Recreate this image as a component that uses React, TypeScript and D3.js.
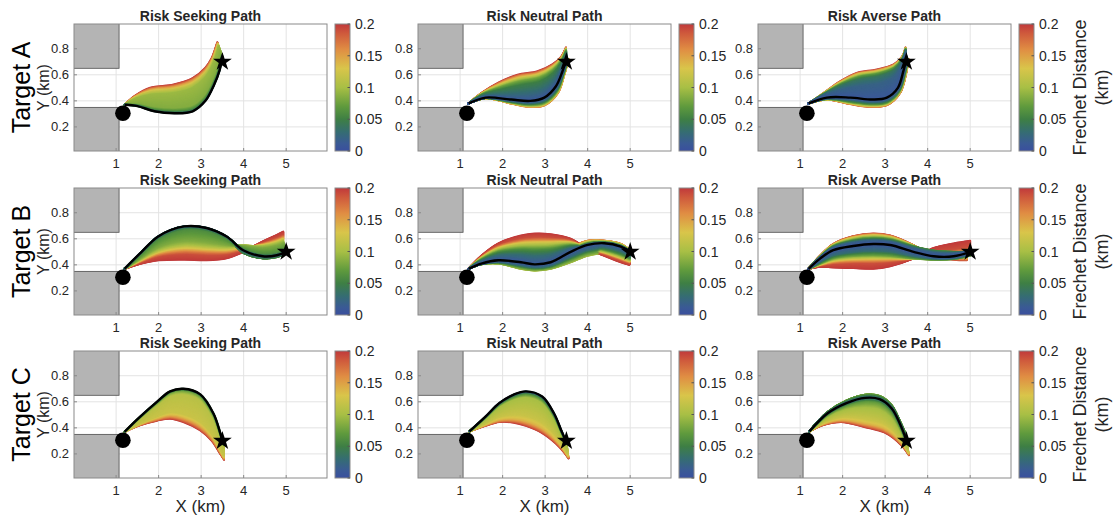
import React from "react";
import * as d3 from "d3";

// ---------- labels / ticks ----------
const colTitles = ["Risk Seeking Path", "Risk Neutral Path", "Risk Averse Path"];
const rowLabels = ["Target A", "Target B", "Target C"];
const xTicks = [1, 2, 3, 4, 5];
const yTicks = [0.2, 0.4, 0.6, 0.8];
const cbTicks = [0, 0.05, 0.1, 0.15, 0.2];
const cbTickLabels = ["0", "0.05", "0.1", "0.15", "0.2"];

// ---------- scene ----------
const startPoint: [number, number] = [1.16, 0.305];
const targets: [number, number][] = [[3.5, 0.7], [5.0, 0.5], [3.5, 0.3]];
const obstacleLow = [0, 1.07, 0, 0.35];
const obstacleHigh = [0, 1.07, 0.65, 1.0];

// colormap (Frechet distance -> colour)
const cmapValues = [0, 0.012, 0.03, 0.05, 0.07, 0.1, 0.13, 0.16, 0.185, 0.2];
const cmapColors = ["#3a4f9e", "#3a5a95", "#356d72", "#3e7f44", "#5f9a3d", "#a8bf45", "#d9c54a", "#e08d43", "#cf5a3c", "#c0393b"];

// ---------- paths: nominal (black) + guide curves of the fan + distance profile across it ----------
// Target A
const nomAS = [[1.2, 0.37], [1.5, 0.36], [1.9, 0.32], [2.4, 0.305], [2.8, 0.32], [3.1, 0.4], [3.3, 0.52], [3.43, 0.63], [3.5, 0.74]];
const edgeAS = [[1.2, 0.37], [1.45, 0.44], [1.8, 0.5], [2.35, 0.525], [2.8, 0.575], [3.1, 0.655], [3.25, 0.73], [3.33, 0.8], [3.38, 0.85]];
const profAS = [[0, 0.03], [0.05, 0.06], [0.15, 0.085], [0.7, 0.095], [0.82, 0.12], [0.9, 0.15], [0.96, 0.18], [1, 0.2]];

const nomAN = [[1.2, 0.38], [1.6, 0.425], [2.2, 0.41], [2.65, 0.4], [2.98, 0.425], [3.25, 0.51], [3.4, 0.62], [3.5, 0.72]];
const upAN = [[1.2, 0.38], [1.5, 0.46], [1.9, 0.54], [2.35, 0.6], [2.82, 0.627], [3.17, 0.68], [3.38, 0.74], [3.49, 0.81]];
const profUpAN = [[0, 0.01], [0.3, 0.03], [0.6, 0.05], [0.75, 0.08], [0.85, 0.12], [0.93, 0.16], [1, 0.2]];
const downAN = [[1.2, 0.38], [1.6, 0.42], [2.2, 0.38], [2.6, 0.355], [2.98, 0.365], [3.3, 0.46], [3.45, 0.6], [3.55, 0.72]];
const profDownAN = [[0, 0.01], [0.4, 0.04], [0.7, 0.09], [0.85, 0.13], [1, 0.17]];

const nomAA = [[1.2, 0.38], [1.63, 0.425], [2.18, 0.425], [2.72, 0.41], [3.04, 0.425], [3.3, 0.5], [3.43, 0.63], [3.5, 0.72]];
const upAA = [[1.2, 0.38], [1.55, 0.46], [1.94, 0.55], [2.33, 0.615], [2.8, 0.64], [3.2, 0.68], [3.4, 0.74], [3.48, 0.81]];
const profUpAA = [[0, 0.01], [0.5, 0.02], [0.75, 0.04], [0.85, 0.07], [0.92, 0.12], [0.97, 0.16], [1, 0.2]];
const downAA = [[1.2, 0.38], [1.63, 0.41], [2.18, 0.375], [2.6, 0.355], [3.04, 0.367], [3.35, 0.46], [3.5, 0.62], [3.55, 0.72]];
const profDownAA = [[0, 0.01], [0.3, 0.03], [0.6, 0.07], [0.8, 0.12], [1, 0.18]];

// Target B
const nomBS = [[1.2, 0.37], [1.6, 0.5], [2.0, 0.62], [2.6, 0.695], [3.13, 0.683], [3.6, 0.617], [4.0, 0.51], [4.45, 0.466], [4.78, 0.474], [5.0, 0.5]];
const midBS = [[1.2, 0.37], [1.6, 0.45], [2.0, 0.52], [2.6, 0.56], [3.13, 0.55], [3.6, 0.54], [4.0, 0.55], [4.45, 0.54], [4.78, 0.56], [4.93, 0.58]];
const edgeBS = [[1.2, 0.37], [1.6, 0.41], [2.0, 0.435], [2.6, 0.44], [3.13, 0.435], [3.6, 0.45], [4.0, 0.5], [4.45, 0.58], [4.78, 0.63], [4.93, 0.655]];
const profBS = [[0, 0.03], [0.08, 0.06], [0.45, 0.085], [0.55, 0.1], [0.65, 0.13], [0.75, 0.17], [0.82, 0.19], [1, 0.2]];
const lowBS = [[1.2, 0.37], [1.6, 0.49], [2.0, 0.6], [2.6, 0.67], [3.13, 0.66], [3.6, 0.59], [4.0, 0.49], [4.45, 0.45], [4.78, 0.46], [5.0, 0.49]];
const profLowBS = [[0, 0.03], [1, 0.06]];

const nomBN = [[1.2, 0.37], [1.5, 0.41], [1.9, 0.435], [2.43, 0.42], [2.75, 0.404], [3.13, 0.42], [3.6, 0.5], [4.0, 0.553], [4.39, 0.566], [4.78, 0.54], [5.0, 0.5]];
const upBN = [[1.2, 0.37], [1.5, 0.47], [1.9, 0.565], [2.43, 0.625], [2.75, 0.64], [3.13, 0.635], [3.6, 0.6], [4.0, 0.52], [4.39, 0.47], [4.78, 0.42], [4.98, 0.4]];
const profUpBN = [[0, 0.01], [0.25, 0.03], [0.45, 0.06], [0.6, 0.1], [0.7, 0.13], [0.78, 0.17], [0.85, 0.19], [1, 0.2]];
const downBN = [[1.2, 0.37], [1.5, 0.405], [1.9, 0.41], [2.43, 0.37], [2.75, 0.357], [3.13, 0.37], [3.6, 0.42], [4.0, 0.47], [4.39, 0.49], [4.78, 0.48], [4.98, 0.46]];
const profDownBN = [[0, 0.01], [0.4, 0.03], [0.7, 0.07], [1, 0.1]];
const topBN = [[1.2, 0.37], [1.5, 0.42], [1.9, 0.45], [2.43, 0.44], [2.75, 0.425], [3.13, 0.445], [3.6, 0.53], [4.0, 0.585], [4.39, 0.585], [4.78, 0.56], [5.0, 0.51]];
const profTopBN = [[0, 0.02], [0.5, 0.1], [1, 0.17]];

const nomBA = [[1.2, 0.37], [1.47, 0.448], [1.78, 0.513], [2.25, 0.545], [2.72, 0.56], [3.12, 0.552], [3.67, 0.5], [4.14, 0.466], [4.61, 0.466], [5.0, 0.5]];
const upMidBA = [[1.2, 0.37], [1.47, 0.46], [1.78, 0.54], [2.25, 0.585], [2.72, 0.6], [3.12, 0.59], [3.67, 0.54], [4.14, 0.51], [4.61, 0.5], [4.92, 0.5]];
const upBA = [[1.2, 0.37], [1.47, 0.47], [1.78, 0.56], [2.25, 0.62], [2.72, 0.64], [3.12, 0.625], [3.67, 0.55], [4.14, 0.46], [4.61, 0.44], [4.92, 0.435]];
const profUpBA = [[0, 0.01], [0.3, 0.02], [0.55, 0.06], [0.7, 0.1], [0.85, 0.14], [0.93, 0.17], [1, 0.19]];
const downMidBA = [[1.2, 0.37], [1.47, 0.41], [1.78, 0.45], [2.25, 0.47], [2.72, 0.475], [3.12, 0.47], [3.67, 0.45], [4.14, 0.44], [4.61, 0.445], [5.0, 0.47]];
const downBA = [[1.2, 0.37], [1.47, 0.385], [1.78, 0.38], [2.25, 0.375], [2.72, 0.37], [3.12, 0.39], [3.67, 0.45], [4.14, 0.53], [4.61, 0.565], [5.0, 0.585]];
const profDownBA = [[0, 0.01], [0.25, 0.03], [0.45, 0.08], [0.55, 0.12], [0.65, 0.16], [0.75, 0.19], [1, 0.2]];

// Target C
const nomCS = [[1.2, 0.37], [1.56, 0.484], [1.96, 0.6], [2.27, 0.68], [2.58, 0.7], [2.98, 0.657], [3.29, 0.51], [3.45, 0.36], [3.52, 0.28]];
const edgeCS = [[1.2, 0.37], [1.56, 0.42], [1.96, 0.455], [2.27, 0.47], [2.58, 0.445], [2.98, 0.38], [3.25, 0.3], [3.45, 0.2], [3.54, 0.155]];
const profCS = [[0, 0.04], [0.05, 0.08], [0.15, 0.11], [0.75, 0.12], [0.85, 0.14], [0.93, 0.17], [1, 0.2]];

const nomCN = [[1.22, 0.373], [1.59, 0.484], [1.92, 0.59], [2.26, 0.655], [2.55, 0.68], [2.93, 0.64], [3.21, 0.51], [3.38, 0.38], [3.5, 0.29]];
const edgeCN = [[1.22, 0.373], [1.59, 0.415], [1.92, 0.444], [2.26, 0.44], [2.55, 0.415], [2.93, 0.36], [3.25, 0.28], [3.45, 0.21], [3.55, 0.165]];
const profCN = [[0, 0.02], [0.05, 0.06], [0.15, 0.1], [0.7, 0.12], [0.85, 0.14], [0.93, 0.17], [1, 0.2]];

const nomCA = [[1.22, 0.373], [1.64, 0.51], [2.09, 0.59], [2.53, 0.63], [2.87, 0.62], [3.15, 0.55], [3.35, 0.43], [3.45, 0.35], [3.5, 0.3]];
const upCA = [[1.22, 0.373], [1.64, 0.52], [2.09, 0.61], [2.53, 0.655], [2.87, 0.645], [3.15, 0.575], [3.35, 0.45], [3.47, 0.36], [3.52, 0.3]];
const profUpCA = [[0, 0.03], [1, 0.08]];
const downCA = [[1.22, 0.373], [1.53, 0.42], [1.97, 0.444], [2.53, 0.405], [2.98, 0.365], [3.2, 0.32], [3.4, 0.26], [3.5, 0.22], [3.56, 0.19]];
const profDownCA = [[0, 0.03], [0.1, 0.07], [0.3, 0.1], [0.7, 0.12], [0.85, 0.14], [0.93, 0.17], [1, 0.2]];

type Pt = number[];
// a fan: guide curves from the nominal outwards, placed at fractions `at` (last = 1)
type Band = { curves: Pt[][]; at: number[]; prof: Pt[] };
type Panel = { nom: Pt[]; bands: Band[] };

const panels: Panel[][] = [
  [
    { nom: nomAS, bands: [{ curves: [edgeAS], at: [1], prof: profAS }] },
    { nom: nomAN, bands: [{ curves: [upAN], at: [1], prof: profUpAN }, { curves: [downAN], at: [1], prof: profDownAN }] },
    { nom: nomAA, bands: [{ curves: [upAA], at: [1], prof: profUpAA }, { curves: [downAA], at: [1], prof: profDownAA }] },
  ],
  [
    { nom: nomBS, bands: [{ curves: [midBS, edgeBS], at: [0.55, 1], prof: profBS }, { curves: [lowBS], at: [1], prof: profLowBS }] },
    {
      nom: nomBN,
      bands: [
        { curves: [upBN], at: [1], prof: profUpBN },
        { curves: [downBN], at: [1], prof: profDownBN },
        { curves: [topBN], at: [1], prof: profTopBN },
      ],
    },
    {
      nom: nomBA,
      bands: [
        { curves: [upMidBA, upBA], at: [0.55, 1], prof: profUpBA },
        { curves: [downMidBA, downBA], at: [0.45, 1], prof: profDownBA },
      ],
    },
  ],
  [
    { nom: nomCS, bands: [{ curves: [edgeCS], at: [1], prof: profCS }] },
    { nom: nomCN, bands: [{ curves: [edgeCN], at: [1], prof: profCN }] },
    { nom: nomCA, bands: [{ curves: [upCA], at: [1], prof: profUpCA }, { curves: [downCA], at: [1], prof: profDownCA }] },
  ],
];

// ---------- layout ----------
const W = 1119;
const H = 516;
const colLeft = [74, 418, 758];
const rowTop = [24, 188, 351];
const plotW = 253;
const plotH = 127;
const cbGap = 261;
const cbW = 15;
const xDomain = [0.01, 5.96];
const yDomain = [0.015, 0.99];
const FONT = "'Liberation Sans', Arial, Helvetica, sans-serif";
const TXT = "#262626";
const STRANDS = 80;

const cmap = d3.scaleLinear<string>().domain(cmapValues).range(cmapColors).interpolate(d3.interpolateRgb).clamp(true);

function strandPoints(nom: Pt[], b: Band, f: number): Pt[] {
  const chain = [nom, ...b.curves];
  const fr = [0, ...b.at];
  let j = 1;
  while (j < fr.length - 1 && f > fr[j]) j++;
  const a = chain[j - 1];
  const c = chain[j];
  const u = (f - fr[j - 1]) / (fr[j] - fr[j - 1] || 1);
  return a.map((q, i) => [q[0] + u * (c[i][0] - q[0]), q[1] + u * (c[i][1] - q[1])]);
}

function PanelView({ r, c }: { r: number; c: number }) {
  const left = colLeft[c];
  const top = rowTop[r];
  const x = d3.scaleLinear().domain(xDomain).range([left, left + plotW]);
  const y = d3.scaleLinear().domain(yDomain).range([top + plotH, top]);
  const line = d3
    .line<Pt>()
    .x((d) => x(d[0]))
    .y((d) => y(d[1]))
    .curve(d3.curveCatmullRom.alpha(0.5));
  const p = panels[r][c];
  const clipId = `clip-${r}-${c}`;
  const strands: { d: string; col: string; f: number }[] = [];
  p.bands.forEach((b) => {
    const prof = d3.scaleLinear().domain(b.prof.map((q) => q[0])).range(b.prof.map((q) => q[1]));
    for (let k = STRANDS; k >= 0; k--) {
      const f = k / STRANDS;
      strands.push({ d: line(strandPoints(p.nom, b, f)) || "", col: cmap(prof(f)), f });
    }
  });
  const ordered = strands.slice().sort((a, b) => b.f - a.f);
  const tgt = targets[r];
  const star = d3.symbol().type(d3.symbolStar).size(110)();
  const cbLeft = left + cbGap;
  const cbScale = d3.scaleLinear().domain([0, 0.2]).range([top + plotH, top]);
  const gradId = `grad-${r}-${c}`;
  return (
    <g>
      <defs>
        <clipPath id={clipId}>
          <rect x={left} y={top} width={plotW} height={plotH} />
        </clipPath>
        <linearGradient id={gradId} x1="0" y1="1" x2="0" y2="0">
          {cmapValues.map((v, i) => (
            <stop key={i} offset={v / 0.2} stopColor={cmapColors[i]} />
          ))}
        </linearGradient>
      </defs>
      <rect x={left} y={top} width={plotW} height={plotH} fill="#fff" />
      {xTicks.map((t) => (
        <line key={"gx" + t} x1={x(t)} x2={x(t)} y1={top} y2={top + plotH} stroke="#e3e3e3" strokeWidth={1} />
      ))}
      {yTicks.map((t) => (
        <line key={"gy" + t} x1={left} x2={left + plotW} y1={y(t)} y2={y(t)} stroke="#e3e3e3" strokeWidth={1} />
      ))}
      <g clipPath={`url(#${clipId})`}>
        <rect
          x={x(obstacleLow[0])}
          y={y(obstacleLow[3])}
          width={x(obstacleLow[1]) - x(obstacleLow[0])}
          height={y(obstacleLow[2]) - y(obstacleLow[3])}
          fill="#b4b4b4"
          stroke="#4d4d4d"
          strokeWidth={0.8}
        />
        <rect
          x={x(obstacleHigh[0])}
          y={y(obstacleHigh[3])}
          width={x(obstacleHigh[1]) - x(obstacleHigh[0])}
          height={y(obstacleHigh[2]) - y(obstacleHigh[3])}
          fill="#b4b4b4"
          stroke="#4d4d4d"
          strokeWidth={0.8}
        />
        {ordered.map((s, i) => (
          <path key={i} d={s.d} fill="none" stroke={s.col} strokeWidth={2} strokeLinecap="round" />
        ))}
        <path d={line(p.nom) || ""} fill="none" stroke="#000" strokeWidth={2.4} />
        <circle cx={x(startPoint[0])} cy={y(startPoint[1])} r={7.8} fill="#000" />
        <path d={star} transform={`translate(${x(tgt[0])},${y(tgt[1])})`} fill="#000" />
      </g>
      <rect x={left} y={top} width={plotW} height={plotH} fill="none" stroke="#8a8a8a" strokeWidth={1} />
      {xTicks.map((t) => (
        <line key={"tx" + t} x1={x(t)} x2={x(t)} y1={top + plotH} y2={top + plotH - 3} stroke="#8a8a8a" />
      ))}
      {yTicks.map((t) => (
        <line key={"ty" + t} x1={left} x2={left + 3} y1={y(t)} y2={y(t)} stroke="#8a8a8a" />
      ))}
      {xTicks.map((t) => (
        <text key={"lx" + t} x={x(t)} y={top + plotH + 17} textAnchor="middle" fontSize={13} fontFamily={FONT} fill={TXT}>
          {t}
        </text>
      ))}
      {yTicks.map((t) => (
        <text key={"ly" + t} x={left - 5} y={y(t) + 4.5} textAnchor="end" fontSize={13} fontFamily={FONT} fill={TXT}>
          {d3.format(".1f")(t)}
        </text>
      ))}
      <text x={left + plotW / 2} y={top - 3} textAnchor="middle" fontSize={14} fontWeight="bold" fontFamily={FONT} fill={TXT}>
        {colTitles[c]}
      </text>
      <rect x={cbLeft} y={top} width={cbW} height={plotH} fill={`url(#${gradId})`} stroke="#8a8a8a" strokeWidth={1} />
      {cbTicks.map((t, i) => (
        <g key={"cb" + i}>
          <line x1={cbLeft + cbW} x2={cbLeft + cbW - 2.5} y1={cbScale(t)} y2={cbScale(t)} stroke="#555" />
          <text x={cbLeft + cbW + 5} y={cbScale(t) + 5} fontSize={14} fontFamily={FONT} fill={TXT}>
            {cbTickLabels[i]}
          </text>
        </g>
      ))}
    </g>
  );
}

export default function App() {
  const cells: React.ReactNode[] = [];
  for (let r = 0; r < 3; r++) for (let c = 0; c < 3; c++) cells.push(<PanelView key={`${r}-${c}`} r={r} c={c} />);
  return (
    <svg width={W} height={H} style={{ position: "absolute", left: 0, top: 0, background: "#fff" }}>
      <rect x={0} y={0} width={W} height={H} fill="#fff" />
      {cells}
      {rowLabels.map((t, r) => {
        const cy = rowTop[r] + plotH / 2;
        return (
          <g key={t}>
            <text transform={`translate(30,${cy}) rotate(-90)`} textAnchor="middle" fontSize={25} fontFamily={FONT} fill="#000">
              {t}
            </text>
            <text transform={`translate(49,${cy}) rotate(-90)`} textAnchor="middle" fontSize={16} fontFamily={FONT} fill={TXT}>
              Y (km)
            </text>
          </g>
        );
      })}
      {colLeft.map((l, c) => (
        <text key={"xl" + c} x={l + plotW / 2} y={512} textAnchor="middle" fontSize={17} fontFamily={FONT} fill={TXT}>
          X (km)
        </text>
      ))}
      {rowTop.map((t, r) => {
        const cy = t + plotH / 2;
        return (
          <g key={"fd" + r}>
            <text transform={`translate(1086,${cy}) rotate(-90)`} textAnchor="middle" fontSize={18} fontFamily={FONT} fill={TXT}>
              Frechet Distance
            </text>
            <text transform={`translate(1108,${cy}) rotate(-90)`} textAnchor="middle" fontSize={18} fontFamily={FONT} fill={TXT}>
              (km)
            </text>
          </g>
        );
      })}
    </svg>
  );
}
